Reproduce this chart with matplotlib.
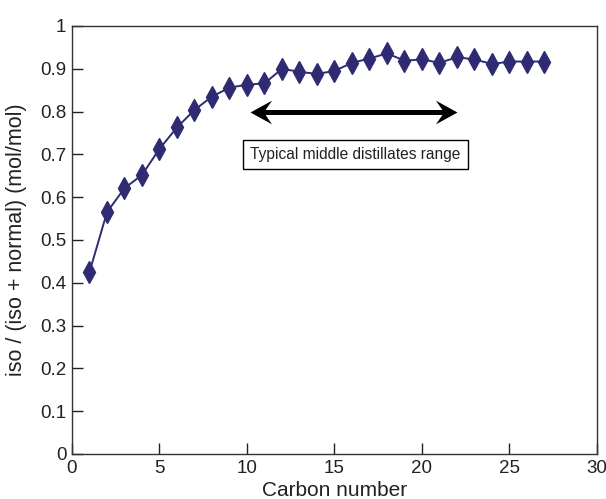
import matplotlib
matplotlib.use("Agg")
import matplotlib.pyplot as plt
from matplotlib.path import Path

plt.rcParams['font.family'] = ['Liberation Sans', 'DejaVu Sans']

carbon_number = list(range(1, 28))
iso_fraction = [0.425, 0.565, 0.621, 0.652, 0.713, 0.763, 0.804, 0.835, 0.856,
                0.863, 0.866, 0.900, 0.893, 0.888, 0.895, 0.914, 0.924, 0.936,
                0.919, 0.922, 0.914, 0.927, 0.922, 0.911, 0.917, 0.917, 0.917]

range_start, range_end, range_level = 10.2, 22.0, 0.8
range_label = "Typical middle distillates range"

fig = plt.figure(figsize=(6.06, 4.99), dpi=100)
ax = fig.add_axes([0.1188, 0.0902, 0.8663, 0.8577])

color = "#2e2b72"
ax.plot(carbon_number, iso_fraction, color=color, lw=1.4, marker="d",
        markersize=11, markerfacecolor=color, markeredgecolor=color)

# double-headed range arrow: shaft plus swept-back heads (tip at marker origin)
head_left = Path([(0, 0), (1, 0.55), (0.62, 0), (1, -0.55), (0, 0)],
                 [Path.MOVETO, Path.LINETO, Path.LINETO, Path.LINETO, Path.CLOSEPOLY])
head_right = Path([(0, 0), (-1, 0.55), (-0.62, 0), (-1, -0.55), (0, 0)],
                  [Path.MOVETO, Path.LINETO, Path.LINETO, Path.LINETO, Path.CLOSEPOLY])
ax.plot([range_start + 0.4, range_end - 0.4], [range_level, range_level],
        color="black", lw=3.6, solid_capstyle="butt")
ax.plot([range_start], [range_level], marker=head_left, markersize=31,
        color="black", mew=0, linestyle="none")
ax.plot([range_end], [range_level], marker=head_right, markersize=31,
        color="black", mew=0, linestyle="none")

ax.text((range_start + range_end) / 2 + 0.1, 0.70, range_label, fontsize=11.2,
        ha="center", va="center", color="#222222",
        bbox=dict(boxstyle="square,pad=0.45", fc="white", ec="black", lw=1))

ax.set_xlim(0, 30)
ax.set_ylim(0, 1)
ax.set_xticks(range(0, 31, 5))
ax.set_yticks([i / 10 for i in range(11)])
ax.set_yticklabels(["0", "0.1", "0.2", "0.3", "0.4", "0.5", "0.6", "0.7",
                    "0.8", "0.9", "1"])
ax.tick_params(direction="in", length=8, width=1, labelsize=13.5,
               colors="#222222", pad=4)
for s in ax.spines.values():
    s.set_color("#333333")
    s.set_linewidth(1)

ax.set_xlabel("Carbon number", fontsize=15, color="#222222")
ax.xaxis.set_label_coords(0.5, -0.062)
ax.set_ylabel("iso / (iso + normal) (mol/mol)", fontsize=15.5, color="#222222")
ax.yaxis.set_label_coords(-0.086, 0.5)

fig.savefig("out.png", dpi=100)
